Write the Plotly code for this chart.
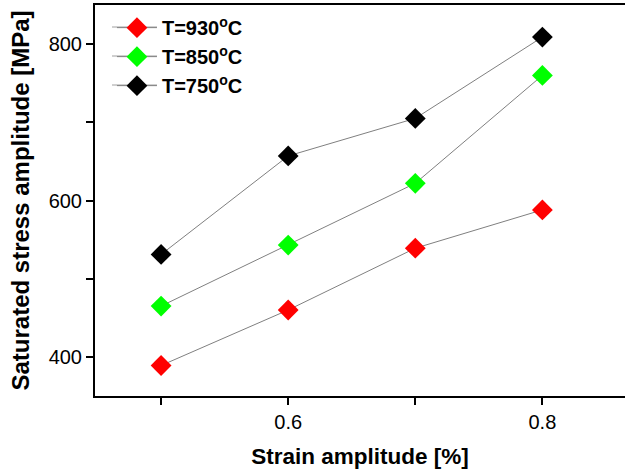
import plotly.graph_objects as go

strain = [0.5, 0.6, 0.7, 0.8]
s930 = [389, 460, 539, 588]
s850 = [465, 543, 622, 760]
s750 = [531, 657, 705, 809]
names = ["T=930<sup>o</sup>C", "T=850<sup>o</sup>C", "T=750<sup>o</sup>C"]
colors = ["#ff0000", "#00ff00", "#000000"]

fig = go.Figure()
for name, ys, c in zip(names, [s930, s850, s750], colors):
    fig.add_trace(go.Scatter(
        x=strain, y=ys, name=name, mode="lines+markers",
        line=dict(color="#808080", width=1),
        marker=dict(symbol="diamond", size=16, color=c),
    ))

# legend sample lines (longer than plotly's default legend line)
W, H, L, T = 530, 391, 95, 5
for row_y in [27, 56, 85]:
    fig.add_shape(type="line", xref="paper", yref="paper",
                  x0=(112 - L) / W, x1=(157 - L) / W,
                  y0=1 - (row_y - T) / H, y1=1 - (row_y - T) / H,
                  line=dict(color="#a0a0a0", width=1), layer="above")

font = "Liberation Sans, Arial, sans-serif"
fig.update_layout(
    width=625, height=472,
    margin=dict(l=95, r=0, t=5, b=76),
    plot_bgcolor="white", paper_bgcolor="white",
    font=dict(family=font, color="black"),
    showlegend=True,
    legend=dict(x=0.032, y=0.992, xanchor="left", yanchor="top",
                bgcolor="rgba(0,0,0,0)", tracegroupgap=0,
                font=dict(size=20, family=font, weight="bold"),
                itemwidth=40),
    xaxis=dict(range=[0.448, 0.865], tickvals=[0.6, 0.8], ticktext=["0.6", "0.8"],
               ticks="outside", ticklen=7, tickwidth=2, tickcolor="black",
               minor=dict(tickvals=[0.5, 0.7], ticks="outside", ticklen=7, tickwidth=2, tickcolor="black"),
               showline=True, linecolor="black", linewidth=2, mirror=True,
               showgrid=False, zeroline=False,
               tickfont=dict(size=20),
               title=dict(text="Strain amplitude [%]", font=dict(size=22.5, weight="bold"), standoff=16)),
    yaxis=dict(range=[350, 850], tickvals=[400, 600, 800],
               ticks="outside", ticklen=7, tickwidth=2, tickcolor="black",
               minor=dict(tickvals=[500, 700], ticks="outside", ticklen=7, tickwidth=2, tickcolor="black"),
               showline=True, linecolor="black", linewidth=2, mirror=False,
               showgrid=False, zeroline=False,
               tickfont=dict(size=20),
               title=dict(text="Saturated stress amplitude [MPa]", font=dict(size=24, weight="bold"), standoff=12)),
)

fig.write_html("out.html")
